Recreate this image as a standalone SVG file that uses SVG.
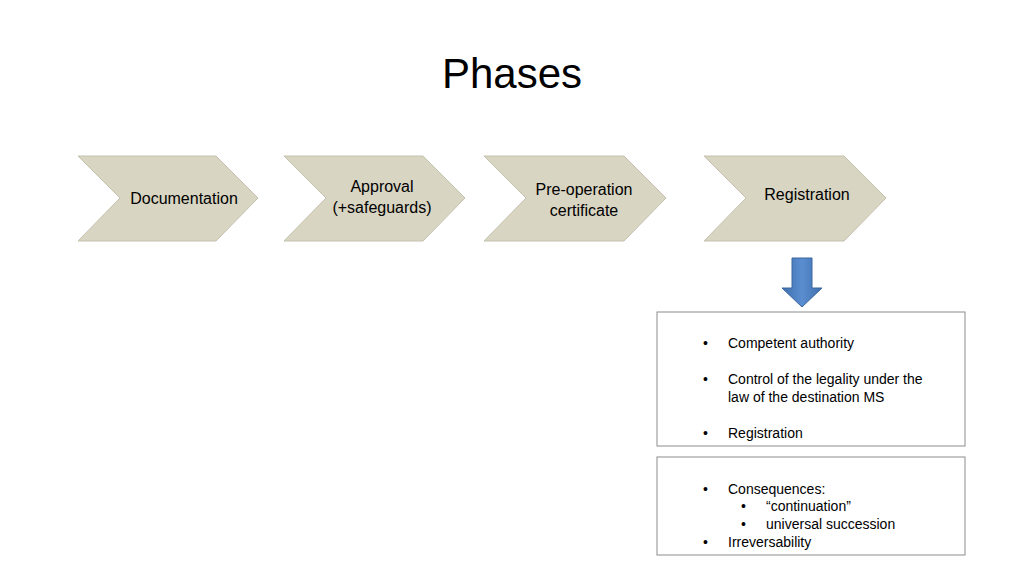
<svg xmlns="http://www.w3.org/2000/svg" width="1024" height="576" viewBox="0 0 1024 576">
<defs>
<style>
text{font-family:"Liberation Sans",Arial,sans-serif;fill:#000}
.chev{fill:#d8d5c2;stroke:#c4c1ae;stroke-width:1}
.lbl{font-size:16px;text-anchor:middle}
.box{fill:#fff;stroke:#8c8c8c;stroke-width:1}
.t{font-size:14px}
</style>
<linearGradient id="g" x1="0" y1="0" x2="1" y2="0"><stop offset="0" stop-color="#3f6fae"/><stop offset="0.5" stop-color="#5a8ed0"/><stop offset="1" stop-color="#3f6fae"/></linearGradient>
</defs>
<rect width="1024" height="576" fill="#fff"/>
<text x="512" y="88" font-size="42" text-anchor="middle">Phases</text>
<g id="n1"><polygon class="chev" points="78,156 216,156 258,198 216,241 78,241 120,198"/><text class="lbl" x="184" y="204">Documentation</text></g>
<g id="n2"><polygon class="chev" points="284,156 423,156 465,198 423,241 284,241 326,198"/><text class="lbl" x="382" y="192">Approval</text><text class="lbl" x="382" y="213">(+safeguards)</text></g>
<g id="n3"><polygon class="chev" points="484,156 624,156 666,198 624,241 484,241 526,198"/><text class="lbl" x="584" y="195">Pre-operation</text><text class="lbl" x="584" y="216">certificate</text></g>
<g id="n4"><polygon class="chev" points="704,156 844,156 886,198 844,241 704,241 746,198"/><text class="lbl" x="807" y="200">Registration</text></g>
<g id="connectors"><polygon points="792,258 812,258 812,288 822,288 802,307 782,288 792,288" fill="url(#g)" stroke="#3a66a0" stroke-width="1"/></g>
<g id="box1"><rect class="box" x="657" y="312" width="308" height="134"/>
<text class="t" x="703" y="348">•</text><text class="t" x="728" y="348">Competent authority</text>
<text class="t" x="703" y="384">•</text><text class="t" x="728" y="384">Control of the legality under the</text><text class="t" x="728" y="402">law of the destination MS</text>
<text class="t" x="703" y="438">•</text><text class="t" x="728" y="438">Registration</text></g>
<g id="box2"><rect class="box" x="657" y="457" width="308" height="98"/>
<text class="t" x="703" y="494">•</text><text class="t" x="728" y="494">Consequences:</text>
<text class="t" x="741" y="511">•</text><text class="t" x="766" y="511">“continuation”</text>
<text class="t" x="741" y="529">•</text><text class="t" x="766" y="529">universal succession</text>
<text class="t" x="703" y="547">•</text><text class="t" x="728" y="547">Irreversability</text></g>
</svg>
